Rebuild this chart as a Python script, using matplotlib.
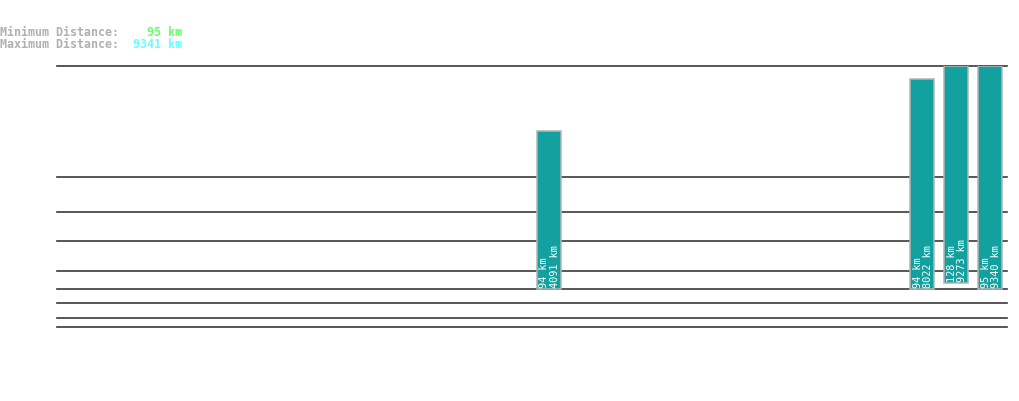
import matplotlib
matplotlib.use("Agg")
import matplotlib.pyplot as plt

# chart values (y in chart units, 0 = lowest rule, 261 = top rule)
slots = 28
bar_slots = [14, 25, 26, 27]
bar_low = [37.5, 37.5, 44, 37.5]
bar_high = [196, 248, 261, 261]
min_km = [94, 94, 128, 95]
max_km = [4091, 8022, 9273, 9340]
rules = [261, 150, 115, 86, 55.5, 38, 24, 9, 0]

overall_min = 95
overall_max = 9341

mono = "DejaVu Sans Mono"
teal = "#13a19f"

fig = plt.figure(figsize=(10.19, 4.02), dpi=100)
ax = fig.add_axes([56.5 / 1019, (402 - 327.7) / 402, (1007 - 56.5) / 1019, (327.7 - 66.7) / 402])
ax.set_xlim(-0.5, slots - 0.5)
ax.set_ylim(0, 261)
ax.axis("off")

for r in rules:
    ax.axhline(r, color="#3a3a3a", lw=1.2, clip_on=False, zorder=1)

heights = [h - l for h, l in zip(bar_high, bar_low)]
ax.bar(bar_slots, heights, bottom=bar_low, width=0.71, color=teal,
       edgecolor="#b4b4b4", linewidth=1.1, zorder=2)

for x, lo, a, b in zip(bar_slots, bar_low, min_km, max_km):
    ax.annotate(f"{a} km\n{b} km", (x, lo), xytext=(0.5, 1.5), textcoords="offset points",
                rotation=90, ha="center", va="bottom", multialignment="left",
                color="white", fontsize=7.4, family=mono, linespacing=1.05, zorder=3)

fig.text(0, 1 - 32 / 402, "Minimum Distance:", color="#b0b0b0", fontsize=8.4,
         family=mono, fontweight="bold", va="center", ha="left")
fig.text(0, 1 - 44 / 402, "Maximum Distance:", color="#b0b0b0", fontsize=8.4,
         family=mono, fontweight="bold", va="center", ha="left")
fig.text(182 / 1019, 1 - 32 / 402, f"{overall_min} km", color="#66ff66", fontsize=8.4,
         family=mono, fontweight="bold", va="center", ha="right")
fig.text(182 / 1019, 1 - 44 / 402, f"{overall_max} km", color="#66ffff", fontsize=8.4,
         family=mono, fontweight="bold", va="center", ha="right")

fig.savefig("out.png", dpi=100)
